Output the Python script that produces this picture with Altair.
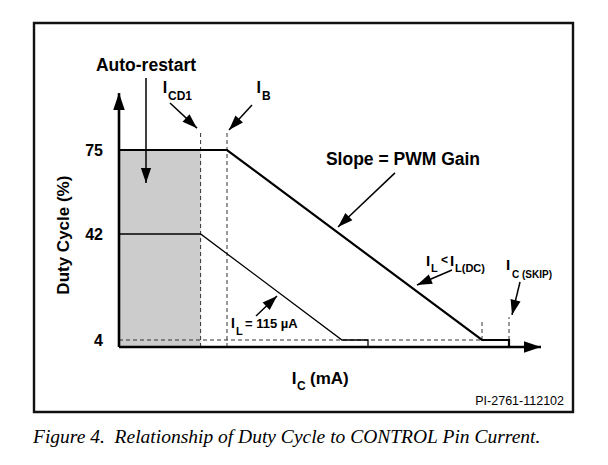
import math
import altair as alt
import numpy as np
import pandas as pd

# ---------------- data (schematic values) ----------------
y_ticks = [4, 42, 75]
i_cd1 = 20.4          # I_CD1 position (arbitrary mA units)
i_b = 27.0            # I_B position
i_skip = 97.5         # I_C(SKIP)
upper_x = [0, 27.0, 90.75, 97.5, 97.5]
upper_y = [75, 75, 4, 4, 0]
lower_x = [0, 20.4, 55.75, 62.25, 62.25]
lower_y = [42, 42, 4, 4, 0]
shade_x = [0, 20.4]
shade_y = [0, 75]

dash_x1 = [0, 20.4, 27.0, 90.75, 97.5]
dash_y1 = [4, 0, 0, 4, 4]
dash_x2 = [90.75, 20.4, 27.0, 90.75, 97.5]
dash_y2 = [4, 82, 82, 11.2, 12.2]

axis_x1 = [0, 0]
axis_y1 = [0, 0]
axis_x2 = [0, 105.5]
axis_y2 = [97.4, 0]

# annotation arrows: start -> tip
arr_x1 = [6.75, 12.75, 33.25, 69.0, 83.25, 100.25, 34.25]
arr_y1 = [103.3, 93.5, 92.7, 66.0, 29.1, 24.8, 12.6]
arr_x2 = [6.75, 19.5, 27.5, 54.75, 74.5, 98.25, 39.5]
arr_y2 = [62.0, 83.6, 82.9, 44.75, 23.7, 13.0, 19.8]

# text labels
bc_text = ["Auto-restart", "Slope = PWM Gain", "I", "I", "I", "I", "I", "I", "I"]
bc_x = [6.75, 71.0, 11.5, 34.9, 77.25, 83.25, 97.25, 28.5, 43.75]
bc_y = [106.0, 69.1, 97.4, 97.4, 30.5, 30.5, 29.1, 8.3, -21.1]
bc_fs = [17.5, 17.5, 16, 16, 15, 15, 15, 14, 17]

bl_text = ["CD1", "B", "L", "<", "L(DC)", "C (SKIP)", "L", "= 115 \u00b5A", "C", "(mA)"]
bl_x = [12.25, 35.75, 78.0, 80.5, 84.0, 98.25, 29.25, 31.5, 44.5, 47.75]
bl_y = [94.6, 94.6, 28.4, 31.25, 28.4, 26.2, 5.8, 8.3, -24.6, -21.1]
bl_fs = [12, 12, 11, 12, 11, 10, 11, 13, 12, 17]

y_title = "Duty Cycle (%)"
code_text = "PI-2761-112102"
caption = "Figure 4.\u00a0 Relationship of Duty Cycle to CONTROL Pin Current."

# ---------------- scales ----------------
W, H = 539, 389
x_dom = [-21.25, 113.5]
y_dom = [-37, 0, 4, 42, 75, 125]
y_rng = [389, 324, 317, 211, 127, 0]
xs = alt.Scale(domain=x_dom, range=[0, W], nice=False, zero=False)
ys = alt.Scale(domain=y_dom, range=y_rng, nice=False, zero=False)


def px(x):
    return (x - x_dom[0]) / (x_dom[1] - x_dom[0]) * W


def py(y):
    return float(np.interp(y, y_dom, y_rng))


def head_angle(x1, y1, x2, y2):
    dx = px(x2) - px(x1)
    dy = py(y2) - py(y1)
    return math.degrees(math.atan2(dx, -dy)) % 360


X = lambda f: alt.X(f, type="quantitative", scale=xs, axis=None)
Y = lambda f: alt.Y(f, type="quantitative", scale=ys, axis=None)

# ---------------- layers ----------------
shade = alt.Chart(pd.DataFrame({"x": [shade_x[0]], "x2": [shade_x[1]], "y": [shade_y[0]], "y2": [shade_y[1]]})).mark_rect(
    color="#cccccc"
).encode(x=X("x"), x2="x2", y=Y("y"), y2="y2")

dashes = alt.Chart(pd.DataFrame({"x": dash_x1, "y": dash_y1, "x2": dash_x2, "y2": dash_y2})).mark_rule(
    color="#333333", strokeWidth=1, strokeDash=[4, 3]
).encode(x=X("x"), y=Y("y"), x2="x2", y2="y2")

lower_df = pd.DataFrame({"x": lower_x, "y": lower_y, "o": range(len(lower_x))})
lower = alt.Chart(lower_df).mark_line(color="black", strokeWidth=1.3).encode(
    x=X("x"), y=Y("y"), order="o:Q"
)
upper_df = pd.DataFrame({"x": upper_x, "y": upper_y, "o": range(len(upper_x))})
upper = alt.Chart(upper_df).mark_line(color="black", strokeWidth=2.2).encode(
    x=X("x"), y=Y("y"), order="o:Q"
)

axes = alt.Chart(pd.DataFrame({"x": axis_x1, "y": axis_y1, "x2": axis_x2, "y2": axis_y2})).mark_rule(
    color="black", strokeWidth=2.6
).encode(x=X("x"), y=Y("y"), x2="x2", y2="y2")

shafts = alt.Chart(pd.DataFrame({"x": arr_x1, "y": arr_y1, "x2": arr_x2, "y2": arr_y2})).mark_rule(
    color="black", strokeWidth=1.5
).encode(x=X("x"), y=Y("y"), x2="x2", y2="y2")

head_rows = []
for a, b, c, d in zip(arr_x1, arr_y1, arr_x2, arr_y2):
    head_rows.append({"x": c, "y": d, "ang": head_angle(a, b, c, d), "s": 30 ** 2})
for a, b, c, d in zip(axis_x1, axis_y1, axis_x2, axis_y2):
    head_rows.append({"x": c, "y": d, "ang": head_angle(a, b, c, d), "s": 34 ** 2})
heads = alt.Chart(pd.DataFrame(head_rows)).mark_point(
    shape="M0,0L-0.34,1L0.34,1Z", filled=True, color="black", opacity=1, strokeWidth=0
).encode(
    x=X("x"), y=Y("y"),
    angle=alt.Angle("ang:Q", scale=None),
    size=alt.Size("s:Q", scale=None),
)

FONT = "Liberation Sans"
bold_c = alt.Chart(pd.DataFrame({"x": bc_x, "y": bc_y, "t": bc_text, "fs": bc_fs})).mark_text(
    font=FONT, fontWeight="bold", align="center", baseline="alphabetic", color="black"
).encode(x=X("x"), y=Y("y"), text="t:N", size=alt.Size("fs:Q", scale=None))

bold_l = alt.Chart(pd.DataFrame({"x": bl_x, "y": bl_y, "t": bl_text, "fs": bl_fs})).mark_text(
    font=FONT, fontWeight="bold", align="left", baseline="alphabetic", color="black"
).encode(x=X("x"), y=Y("y"), text="t:N", size=alt.Size("fs:Q", scale=None))

ticks = alt.Chart(pd.DataFrame({"v": y_ticks, "x": [-4] * len(y_ticks), "t": [str(v) for v in y_ticks]})).mark_text(
    font=FONT, fontWeight="bold", align="right", baseline="middle", fontSize=16, dy=1, color="black"
).encode(x=X("x"), y=Y("v"), text="t:N")

ytitle = alt.Chart(pd.DataFrame({"x": [-13.7], "y": [41.6], "t": [y_title]})).mark_text(
    font=FONT, fontWeight="bold", align="center", baseline="middle", fontSize=17, angle=270, color="black"
).encode(x=X("x"), y=Y("y"), text="t:N")

code = alt.Chart(pd.DataFrame({"x": [111.25], "y": [-33.1], "t": [code_text]})).mark_text(
    font=FONT, align="right", baseline="alphabetic", fontSize=12.5, color="black"
).encode(x=X("x"), y=Y("y"), text="t:N")

cap = alt.Chart(pd.DataFrame({"x": [-21.5], "y": [-54.9], "t": [caption]})).mark_text(
    font="Liberation Serif", fontStyle="italic", align="left", baseline="alphabetic", fontSize=19.5, color="black"
).encode(x=X("x"), y=Y("y"), text="t:N")

chart = alt.layer(
    shade, dashes, lower, upper, axes, shafts, heads, bold_c, bold_l, ticks, ytitle, code, cap
).properties(
    width=W, height=H,
    autosize=alt.AutoSizeParams(type="none"),
    padding={"left": 34, "top": 23, "right": 35, "bottom": 53},
    background="white",
).configure_view(stroke="#111111", strokeWidth=2.4)

chart.save("out.html", embed_options={"renderer": "svg", "actions": False})
